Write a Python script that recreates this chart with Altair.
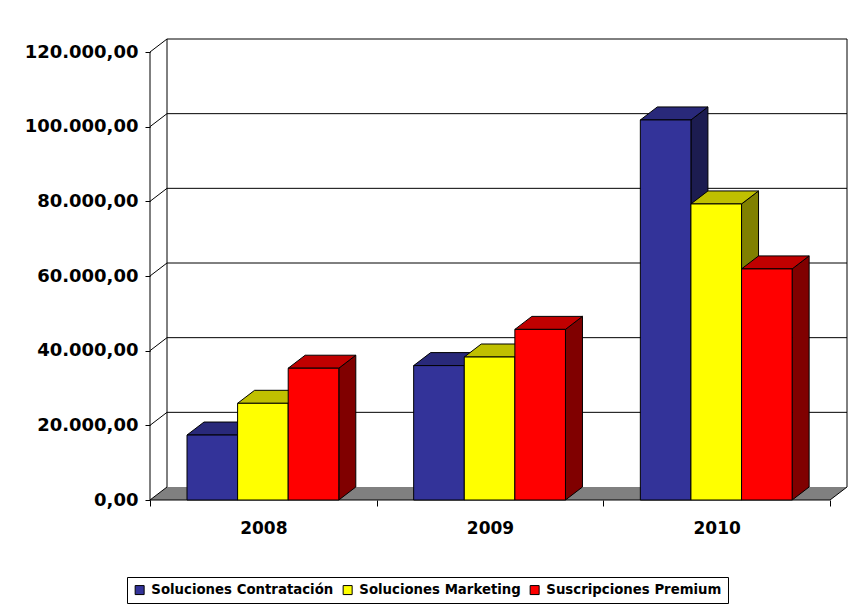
import altair as alt
import pandas as pd

# ---------------- data ----------------
years = ["2008", "2009", "2010"]
series = ["Soluciones Contratación", "Soluciones Marketing", "Suscripciones Premium"]
contratacion = [17400, 36000, 101800]
marketing = [25900, 38300, 79300]
premium = [35300, 45700, 61900]
y_ticks = [0, 20000, 40000, 60000, 80000, 100000, 120000]
y_tick_labels = ["0,00", "20.000,00", "40.000,00", "60.000,00",
                 "80.000,00", "100.000,00", "120.000,00"]

front_colors = ["#333399", "#FFFF00", "#FF0000"]
top_colors = ["#29297A", "#C0C000", "#C00000"]
side_colors = ["#1C1C50", "#808000", "#800000"]

# ---------------- geometry (pixels -> data units) ----------------
CAT_PX = 680 / 3          # width of one category slot
DX_PX, DV_PX = 17, 13     # 3-D depth offset
TICK_SPAN_PX = 448        # pixels from 0 to 120000
W = 680 + DX_PX
H = TICK_SPAN_PX + DV_PX
DXU = DX_PX / CAT_PX
YTOP = y_ticks[-1]
DVU = DV_PX * YTOP / TICK_SPAN_PX
XMAX = 3 + DXU
YMAX = YTOP + DVU
OFF = 37 / CAT_PX
BW = 50.6 / CAT_PX

FONT = "DejaVu Sans"

vals = [contratacion, marketing, premium]

fronts, sides, tops = [], [], []
for i, yr in enumerate(years):
    for j, s in enumerate(series):
        v = vals[j][i]
        x0 = i + OFF + j * BW
        x1 = x0 + BW
        key = f"{i}-{j}"
        fronts.append(dict(series=s, x=x0, x2=x1, y=v, y2=0))
        sides.append(dict(k=key, j=j, x=x1, y=v, y2=0))
        sides.append(dict(k=key, j=j, x=x1 + DXU, y=v + DVU, y2=DVU))
        tops.append(dict(k=key, j=j, y=v, x=x0, x2=x1))
        tops.append(dict(k=key, j=j, y=v + DVU, x=x0 + DXU, x2=x1 + DXU))

df_front = pd.DataFrame(fronts)
df_side = pd.DataFrame(sides)
df_top = pd.DataFrame(tops)

xscale = alt.Scale(domain=[0, XMAX], nice=False, zero=False)
yscale = alt.Scale(domain=[0, YMAX], nice=False, zero=False)

year_arr = "[" + ",".join(f"'{y}'" for y in years) + "]"
ylab_arr = "[" + ",".join(f"'{t}'" for t in y_tick_labels) + "]"

xaxis = alt.Axis(
    values=[0, 0.5, 1, 1.5, 2, 2.5, 3],
    labelExpr=f"(datum.value % 1) != 0 ? {year_arr}[floor(datum.value)] : ''",
    domain=False, grid=False, title=None,
    tickColor={"condition": {"test": "(datum.value % 1) != 0", "value": "transparent"},
               "value": "black"},
    tickSize=6, tickWidth=1, labelPadding=14,
    labelFont=FONT, labelFontSize=17, labelFontWeight="bold", labelColor="black",
    labelOverlap=False, labelFlush=False,
)
yaxis = alt.Axis(
    values=y_ticks,
    labelExpr=f"{ylab_arr}[round(datum.value / {y_ticks[1]})]",
    domain=False, grid=False, title=None,
    tickColor="black", tickSize=5, tickWidth=1, labelPadding=7,
    labelFont=FONT, labelFontSize=18, labelFontWeight="bold", labelColor="black",
    labelOverlap=False, labelFlush=False,
)


def X(f="x", **kw):
    return alt.X(f"{f}:Q", scale=xscale, axis=xaxis, title=None, **kw)


def Y(f="y", **kw):
    return alt.Y(f"{f}:Q", scale=yscale, axis=yaxis, title=None, **kw)


# ---------------- walls / floor ----------------
floor_df = pd.DataFrame([dict(y=0, x=0, x2=3), dict(y=DVU, x=DXU, x2=3 + DXU)])
floor = alt.Chart(floor_df).mark_area(orient="horizontal", color="#808080").encode(
    y=Y(stack=None), x=X(stack=None), x2="x2:Q")

grid_df = pd.DataFrame([dict(y=t + DVU, x=DXU, x2=XMAX) for t in y_ticks[1:]])
grid = alt.Chart(grid_df).mark_rule(color="black", strokeWidth=1).encode(
    y=Y(), x=X(), x2="x2:Q")

edges_df = pd.DataFrame([dict(x=DXU, y=DVU, y2=YTOP + DVU),
                         dict(x=XMAX, y=DVU, y2=YTOP + DVU),
                         dict(x=0, y=0, y2=YTOP)])
edges = alt.Chart(edges_df).mark_rule(color="black", strokeWidth=1).encode(
    x=X(), y=Y(), y2="y2:Q")

diag_df = pd.DataFrame([dict(x=0, y=t, x2=DXU, y2=t + DVU) for t in y_ticks]
                       + [dict(x=3, y=0, x2=XMAX, y2=DVU)])
diag = alt.Chart(diag_df).mark_rule(color="black", strokeWidth=1).encode(
    x=X(), y=Y(), x2="x2:Q", y2="y2:Q")

xline_df = pd.DataFrame([dict(x=0, x2=3, y=0)])
xline = alt.Chart(xline_df).mark_rule(color="black", strokeWidth=1).encode(
    x=X(), x2="x2:Q", y=Y())

# ---------------- bars ----------------
side_layers = []
top_layers = []
for j in range(3):
    side_layers.append(
        alt.Chart(df_side[df_side.j == j]).mark_area(
            orient="vertical", color=side_colors[j], stroke="black", strokeWidth=1,
            opacity=1).encode(
            x=X(stack=None), y=Y(stack=None), y2="y2:Q", detail="k:N"))
    top_layers.append(
        alt.Chart(df_top[df_top.j == j]).mark_area(
            orient="horizontal", color=top_colors[j], stroke="black", strokeWidth=1,
            opacity=1).encode(
            y=Y(stack=None), x=X(stack=None), x2="x2:Q", detail="k:N"))

front = alt.Chart(df_front).mark_rect(stroke="black", strokeWidth=1).encode(
    x=X(), x2="x2:Q", y=Y(), y2="y2:Q",
    color=alt.Color("series:N",
                    scale=alt.Scale(domain=series, range=front_colors),
                    legend=alt.Legend(
                        title=None, orient="none", direction="horizontal",
                        legendX=-23, legendY=538,
                        strokeColor="black", fillColor="white", padding=6,
                        symbolType="square", symbolSize=81,
                        symbolStrokeColor="black", symbolStrokeWidth=1,
                        symbolOpacity=1, labelLimit=400,
                        labelFont=FONT, labelFontSize=13.3, labelFontWeight="bold",
                        labelColor="black", labelOffset=5, columnPadding=7,
                    )))

chart = alt.layer(
    floor, grid, edges, diag, xline, *side_layers, *top_layers, front
).properties(
    width=W, height=H,
    autosize=alt.AutoSizeParams(type="none"),
    padding={"left": 142, "top": 31, "right": 9, "bottom": 104},
    background="white",
).configure_view(stroke=None)

chart.save("out.html", embed_options={"renderer": "svg", "actions": False})
